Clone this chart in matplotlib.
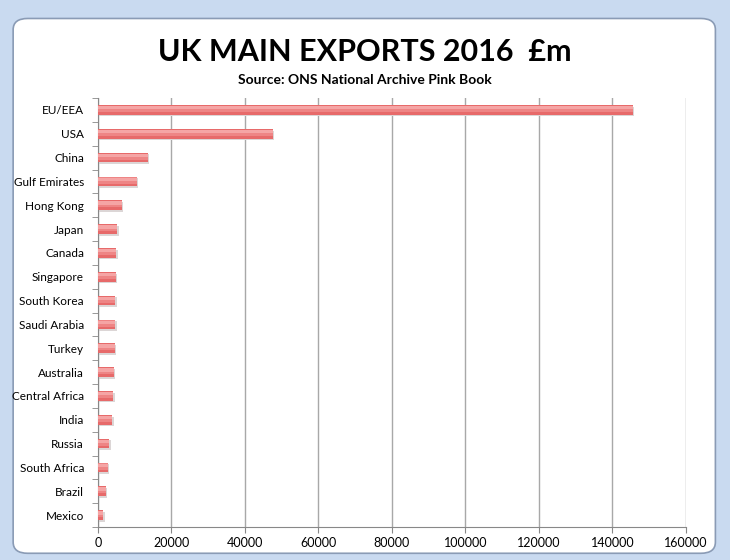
import numpy as np
import matplotlib.pyplot as plt
from matplotlib.patches import FancyBboxPatch

# Data (£m)
countries = ["EU/EEA", "USA", "China", "Gulf Emirates", "Hong Kong", "Japan",
             "Canada", "Singapore", "South Korea", "Saudi Arabia", "Turkey",
             "Australia", "Central Africa", "India", "Russia", "South Africa",
             "Brazil", "Mexico"]
exports = [145500, 47500, 13600, 10500, 6500, 5300,
           5000, 4800, 4700, 4650, 4550,
           4300, 4200, 3900, 3100, 2600,
           2100, 1500]

plt.rcParams['font.family'] = ['Lato', 'DejaVu Sans']

fig = plt.figure(figsize=(7.3, 5.6), dpi=100)
fig.patch.set_facecolor('#c9daf0')

# white chart area with rounded border
frame = FancyBboxPatch((0.018, 0.012), 0.962, 0.955,
                       boxstyle="round,pad=0,rounding_size=0.02",
                       transform=fig.transFigure, facecolor='white',
                       edgecolor='#8a9bb5', linewidth=1.2, zorder=-5)
fig.patches.append(frame)

ax = fig.add_axes([0.1342, 0.0589, 0.8055, 0.7661])
ax.set_facecolor('none')
ax.set_zorder(2)

y = np.arange(len(countries))
# shadow, main bar, lighter bands towards the top
ax.barh(y + 0.07, exports, height=0.4, left=400, color='#dcd6d6', zorder=2)
ax.barh(y, exports, height=0.4, color='#e76a6a', zorder=3)
ax.barh(y - 0.04, exports, height=0.26, color='#ee8585', zorder=4)
ax.barh(y - 0.09, exports, height=0.14, color='#f5a5a5', zorder=5)

ax.set_xlim(0, 160000)
ax.set_ylim(len(countries) - 0.5, -0.5)
ax.set_xticks(np.arange(0, 160001, 20000))
ax.set_xticklabels([str(v) for v in range(0, 160001, 20000)], fontsize=9)
ax.set_yticks(y)
ax.set_yticklabels(countries, fontsize=8.5)
ax.set_yticks(np.arange(-0.5, len(countries)), minor=True)
ax.tick_params(axis='y', which='major', length=0, pad=10)
ax.tick_params(axis='y', which='minor', length=4, color='#888888')
ax.tick_params(axis='x', length=4, color='#888888', pad=3)

ax.grid(axis='x', color='#a8a8a8', linewidth=1.0, zorder=1)
ax.set_axisbelow(True)
for s in ['top', 'right']:
    ax.spines[s].set_visible(False)
for s in ['left', 'bottom']:
    ax.spines[s].set_color('#888888')

fig.text(0.5, 0.908, "UK MAIN EXPORTS 2016  £m", ha='center', va='center',
         fontsize=22, fontweight='bold')
fig.text(0.5, 0.858, "Source: ONS National Archive Pink Book", ha='center',
         va='center', fontsize=10, fontweight='bold')

fig.savefig("out.png", dpi=100)
